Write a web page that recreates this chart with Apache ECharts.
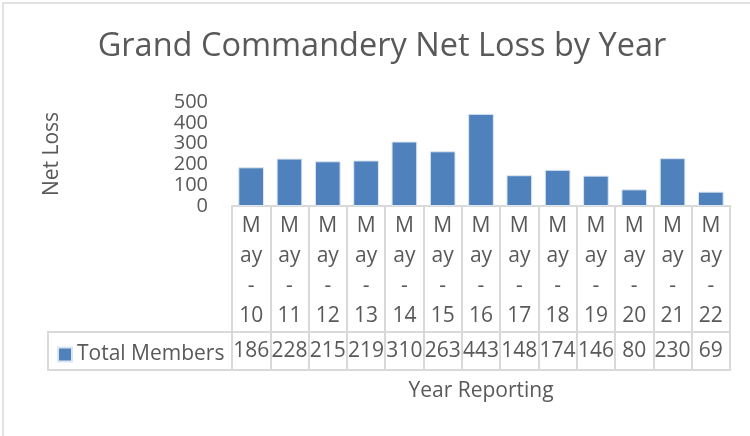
<!DOCTYPE html>
<html>
<head>
<meta charset="utf-8">
<script src="https://cdn.jsdelivr.net/npm/echarts@6/dist/echarts.min.js"></script>
<style>
html,body{margin:0;padding:0;background:#fff;}
#chart{width:750px;height:436px;}
</style>
</head>
<body>
<div id="chart"></div>
<script>
var categories = ["May-10","May-11","May-12","May-13","May-14","May-15","May-16","May-17","May-18","May-19","May-20","May-21","May-22"];
var totalMembers = [186,228,215,219,310,263,443,148,174,146,80,230,69];
var yTicks = [0,100,200,300,400,500];
var seriesName = "Total Members";
var titleText = "Grand Commandery Net Loss by Year";
var yName = "Net Loss";
var xName = "Year Reporting";

var FONT = "'Open Sans', sans-serif";
var TXT = "#595959";
var LINE = "#D9D9D9";
var FS = 21;

var chart = echarts.init(document.getElementById('chart'), null, {renderer:'canvas'});

function wrapCat(v){
  var p = v.split('-');
  return p[0].charAt(0) + "\n" + p[0].slice(1) + "\n-\n" + p[1];
}

var option = {
  animation:false,
  backgroundColor:'#fff',
  textStyle:{fontFamily:FONT, color:TXT},
  title:{
    text:titleText,
    left:377, top:25, textAlign:'center',
    textStyle:{fontFamily:FONT, fontSize:32.5, fontWeight:'normal', color:TXT}
  },
  legend:{
    data:[seriesName],
    left:57, top:344, padding:0,
    icon:'rect', itemWidth:14, itemHeight:14, itemGap:5,
    textStyle:{fontFamily:FONT, fontSize:FS, color:TXT}
  },
  graphic:[
    {type:'rect', shape:{x:3, y:3, width:800, height:500}, style:{fill:'none', stroke:LINE, lineWidth:1.5}, silent:true, z:-1},
    {type:'rect', shape:{x:48, y:332, width:682, height:38}, style:{fill:'none', stroke:LINE, lineWidth:2}, silent:true, z:5}
  ],
  grid:[
    {left:232, right:20, top:102, height:104, containLabel:false},
    {left:232, right:20, top:206, height:164, show:true, borderColor:LINE, borderWidth:2, backgroundColor:'transparent'}
  ],
  xAxis:[
    {
      type:'category', gridIndex:0, data:categories,
      axisLine:{show:true, lineStyle:{color:LINE, width:2}},
      axisTick:{show:false},
      axisLabel:{interval:0, formatter:wrapCat, fontFamily:FONT, fontSize:FS, color:TXT, lineHeight:30, margin:5}
    },
    {
      type:'category', gridIndex:1, data:categories,
      axisLine:{show:true, lineStyle:{color:LINE, width:2}},
      axisTick:{show:false},
      splitLine:{show:true, interval:0, lineStyle:{color:LINE, width:2}},
      axisLabel:{interval:0, inside:true, margin:8, fontFamily:FONT, fontSize:FS, color:TXT,
        formatter:function(v, i){ return String(totalMembers[i]); }},
      name:xName, nameLocation:'middle', nameGap:11,
      nameTextStyle:{fontFamily:FONT, fontSize:FS, color:TXT, verticalAlign:'top'}
    }
  ],
  yAxis:[
    {
      type:'value', gridIndex:0, min:yTicks[0], max:yTicks[yTicks.length-1], interval:100,
      axisLine:{show:false}, axisTick:{show:false}, splitLine:{show:false},
      axisLabel:{fontFamily:FONT, fontSize:20, color:TXT, margin:24},
      name:yName, nameLocation:'middle', nameRotate:90, nameGap:169,
      nameTextStyle:{fontFamily:FONT, fontSize:FS, color:TXT}
    },
    {type:'value', gridIndex:1, show:false, min:0, max:1}
  ],
  series:[
    {
      name:seriesName, type:'bar', xAxisIndex:0, yAxisIndex:0,
      data:totalMembers, barCategoryGap:'33%',
      itemStyle:{color:'#4F81BD', borderColor:'#DCE6F2', borderWidth:1}
    }
  ]
};
chart.setOption(option);
</script>
</body>
</html>
